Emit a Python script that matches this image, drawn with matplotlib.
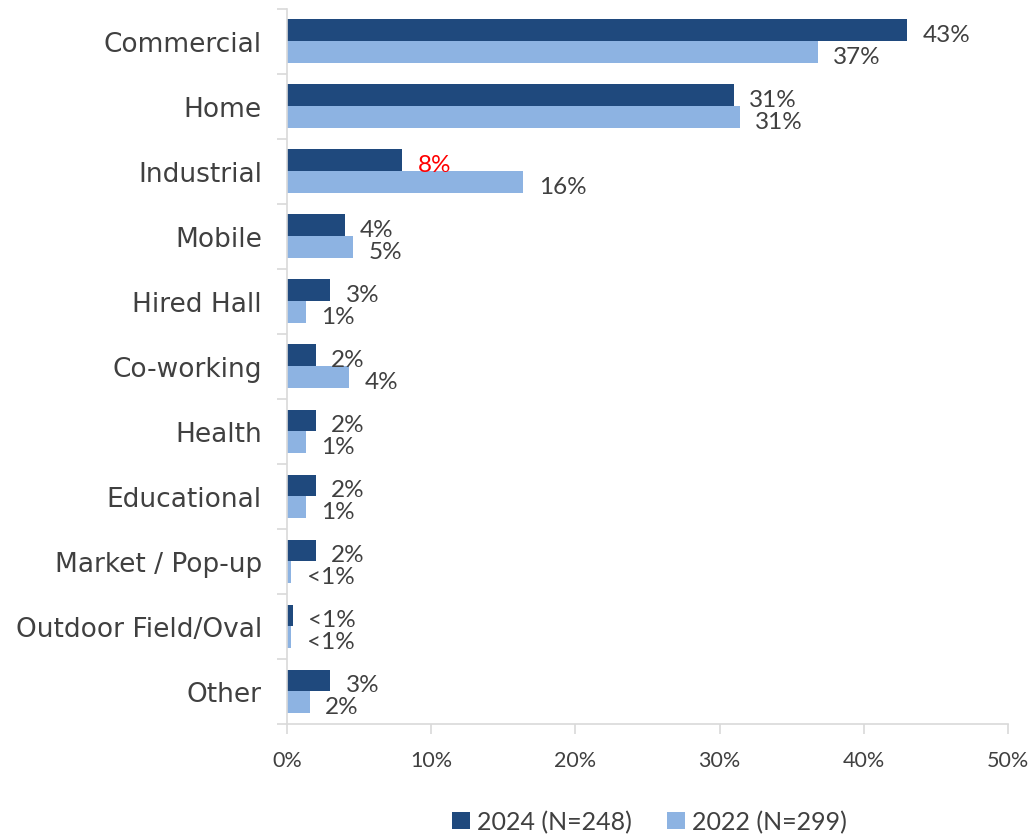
import matplotlib
matplotlib.use("Agg")
import matplotlib.pyplot as plt
import numpy as np

categories = ["Commercial", "Home", "Industrial", "Mobile", "Hired Hall",
              "Co-working", "Health", "Educational", "Market / Pop-up",
              "Outdoor Field/Oval", "Other"]
values_2024 = [43.0, 31.0, 8.0, 4.0, 3.0, 2.0, 2.0, 2.0, 2.0, 0.4, 3.0]
values_2022 = [36.8, 31.4, 16.4, 4.6, 1.3, 4.3, 1.3, 1.3, 0.3, 0.3, 1.6]
series_labels = ["2024 (N=248)", "2022 (N=299)"]
x_ticks = [0, 10, 20, 30, 40, 50]

DARK = "#1F497D"
LIGHT = "#8DB3E2"
TEXT = "#404040"
AXIS = "#D9D9D9"

plt.rcParams["font.family"] = ["Lato", "DejaVu Sans"]

fig = plt.figure(figsize=(10.36, 8.37), dpi=100)
ax = fig.add_axes([0.277, 0.1338, 0.696, 0.8548])

n = len(categories)
y = np.arange(n)
h = 0.335

b1 = ax.barh(y - h / 2, values_2024, height=h, color=DARK, label=series_labels[0])
b2 = ax.barh(y + h / 2, values_2022, height=h, color=LIGHT, label=series_labels[1])


def fmt(v):
    return "<1%" if v < 1 else f"{round(v)}%"


for i, v in enumerate(values_2024):
    col = "#FF0000" if categories[i] == "Industrial" else TEXT
    ax.annotate(fmt(v), (v, y[i] - h / 2), xytext=(11, -3), textcoords="offset points",
                ha="left", va="center", fontsize=17.5, color=col)
for i, v in enumerate(values_2022):
    ax.annotate(fmt(v), (v, y[i] + h / 2), xytext=(11, -3), textcoords="offset points",
                ha="left", va="center", fontsize=17.5, color=TEXT)

ax.set_xlim(0, 50)
ax.set_ylim(n - 0.5, -0.5)
ax.set_xticks(x_ticks)
ax.set_xticklabels([f"{t}%" for t in x_ticks], fontsize=15.5, color=TEXT)
ax.set_yticks(y)
ax.set_yticklabels(categories, fontsize=19, color=TEXT,
                   family=["DejaVu Sans"])
ax.tick_params(axis="y", length=0, pad=18)
ax.set_yticks(np.arange(-0.5, n + 0.5, 1), minor=True)
ax.tick_params(axis="y", which="minor", length=7, color=AXIS, width=1.2)
ax.tick_params(axis="x", length=7, color=AXIS, width=1.2, pad=12, direction="out")

for s in ["top", "right"]:
    ax.spines[s].set_visible(False)
for s in ["left", "bottom"]:
    ax.spines[s].set_color(AXIS)
    ax.spines[s].set_linewidth(1.2)

fig.legend(handles=[b1, b2], labels=series_labels, loc="center",
           bbox_to_anchor=(0.627, 0.017), ncol=2, frameon=False, fontsize=18,
           handlelength=0.7, handleheight=0.7, handletextpad=0.3, columnspacing=1.4,
           labelcolor=TEXT)

fig.savefig("out.png", dpi=100)
